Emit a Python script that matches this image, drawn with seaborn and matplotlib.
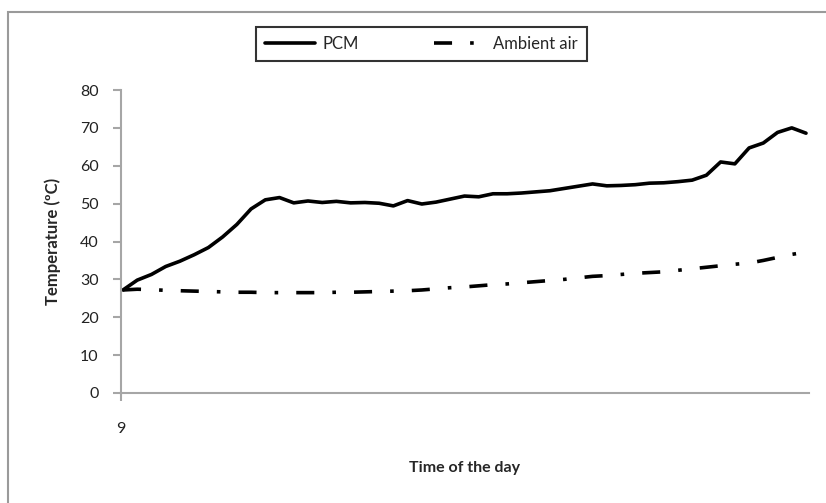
import numpy as np
import pandas as pd
import seaborn as sns
import matplotlib
matplotlib.use("Agg")
import matplotlib.pyplot as plt
from matplotlib.patches import Rectangle

# ---- data (10-minute samples starting at 9:00) ----
start_hour = 9.0
step_hours = 10 / 60
pcm = [27.2, 29.8, 31.3, 33.4, 34.8, 36.5, 38.4, 41.2, 44.5, 48.6,
       51.0, 51.6, 50.2, 50.7, 50.3, 50.6, 50.2, 50.3, 50.1, 49.4,
       50.8, 49.9, 50.4, 51.2, 52.0, 51.8, 52.6, 52.6, 52.8, 53.1,
       53.4, 54.0, 54.6, 55.2, 54.7, 54.8, 55.0, 55.4, 55.5, 55.8,
       56.2, 57.5, 61.0, 60.5, 64.7, 66.0, 68.8, 70.0, 68.6]
ambient = [27.2, 27.4, 27.3, 27.1, 27.0, 26.9, 26.8, 26.7, 26.6, 26.6,
           26.5, 26.5, 26.5, 26.5, 26.5, 26.6, 26.6, 26.7, 26.8, 26.9,
           27.0, 27.2, 27.5, 27.8, 28.0, 28.3, 28.6, 28.8, 29.1, 29.4,
           29.7, 30.0, 30.4, 30.8, 31.0, 31.3, 31.6, 31.8, 32.0, 32.4,
           32.8, 33.2, 33.6, 34.0, 34.3, 35.0, 35.8, 36.6, 37.2]
series_names = ["PCM", "Ambient air"]
x_tick_labels = ["9"]
y_ticks = [0, 10, 20, 30, 40, 50, 60, 70, 80]

hours = [start_hour + i * step_hours for i in range(len(pcm))]
df = pd.DataFrame({
    "time": hours * 2,
    "temp": pcm + ambient,
    "series": [series_names[0]] * len(pcm) + [series_names[1]] * len(ambient),
})

sns.set_theme(style="white")
plt.rcParams["font.family"] = ["Lato", "DejaVu Sans"]

fig = plt.figure(figsize=(8.26, 5.03), dpi=100)
ax = fig.add_axes([121 / 826, 1 - 393 / 503, (809 - 121) / 826, (393 - 90) / 503])

sns.lineplot(data=df, x="time", y="temp", style="series", color="black",
             dashes={"PCM": "", "Ambient air": (5, 5, 1, 5)},
             linewidth=2.6, ax=ax, legend=True)

total = hours[-1] - hours[0]
x0 = start_hour - (123 - 121) / (806 - 123) * total
span = (809 - 121) / (806 - 123) * total
ax.set_xlim(x0, x0 + span)
ax.set_ylim(0, 80)
ax.set_yticks(y_ticks)
ax.set_xticks([x0])
ax.set_xticklabels(x_tick_labels)

for s in ["top", "right"]:
    ax.spines[s].set_visible(False)
for s in ["left", "bottom"]:
    ax.spines[s].set_color("#a6a6a6")
    ax.spines[s].set_linewidth(1.5)
ax.tick_params(axis="both", which="both", direction="out", length=6, width=1.5,
               color="#a6a6a6", labelsize=11.5, labelcolor="#222222",
               left=True, bottom=True)
ax.tick_params(axis="y", pad=10)
ax.tick_params(axis="x", pad=15)

ax.set_ylabel("Temperature (ºC)", fontsize=12, fontweight="bold", labelpad=14)
ax.set_xlabel("Time of the day", fontsize=11.5, fontweight="bold", labelpad=18)

handles, labels = ax.get_legend_handles_labels()
ax.get_legend().remove()
leg = fig.legend(handles, labels, loc="upper center",
                 bbox_to_anchor=(421 / 826, 1 - 27 / 503), ncol=2,
                 frameon=True, fancybox=False, edgecolor="black",
                 fontsize=12, handlelength=3.0, handletextpad=0.5,
                 columnspacing=4.5, borderpad=0.55, borderaxespad=0)
leg.get_frame().set_linewidth(1.5)

# outer chart frame
fig.patches.append(Rectangle((8 / 826, -0.1), 1.2, 1.1 - 12 / 503,
                             transform=fig.transFigure, fill=False,
                             edgecolor="#9a9a9a", linewidth=1.5))

fig.savefig("out.png", dpi=100)
